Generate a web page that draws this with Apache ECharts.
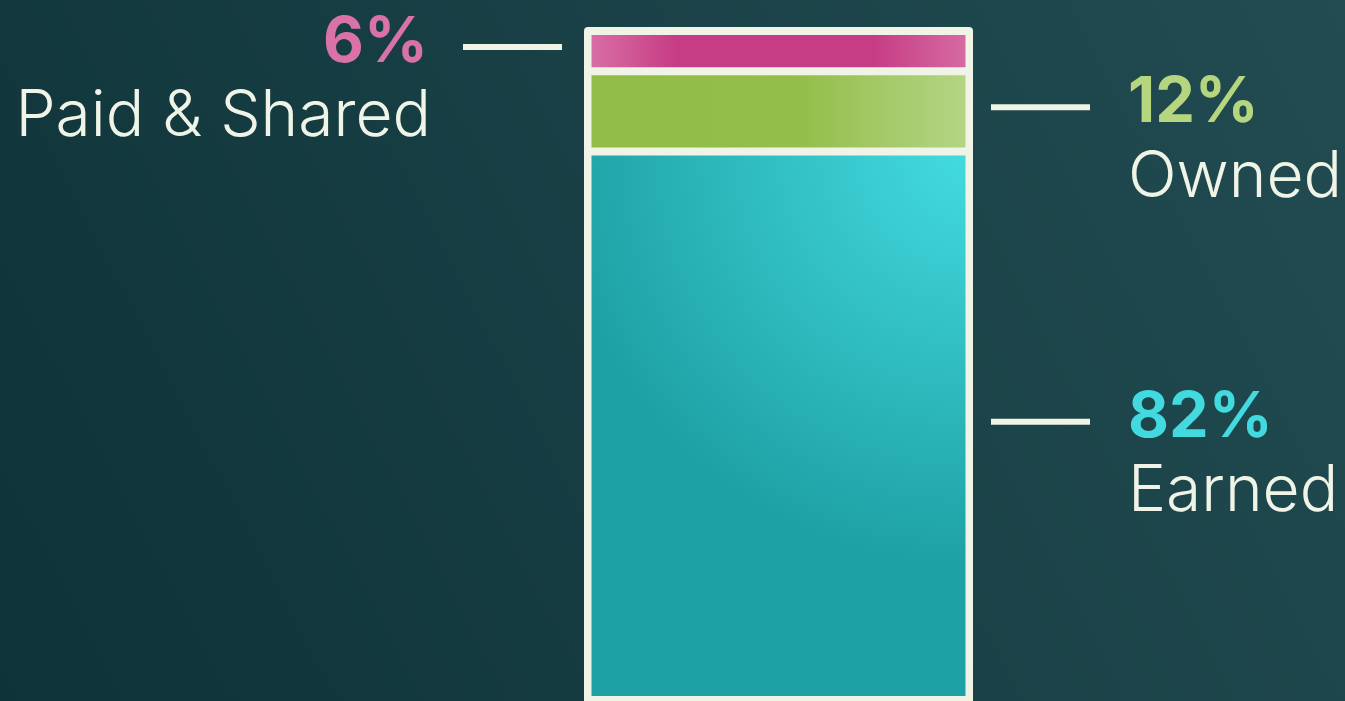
<!DOCTYPE html>
<html>
<head>
<meta charset="utf-8">
<script src="https://cdn.jsdelivr.net/npm/echarts@6/dist/echarts.min.js"></script>
<style>
  html, body { margin: 0; padding: 0; }
  #box { width: 1345px; height: 701px; }
</style>
</head>
<body>
<div id="box"></div>
<script>
// data, bottom to top of the stack
var names = ["Earned", "Owned", "Paid & Shared"];
var values = [82, 12, 6];
var pctLabels = ["82%", "12%", "6%"];
var labelSide = ["right", "right", "left"];

var cream = "#eff4e7";
var pctColors = ["#42dadf", "#b5d57f", "#d872a7"];
var lg = echarts.graphic.LinearGradient;
var rg = echarts.graphic.RadialGradient;
var fills = [
  // glow from the top right corner
  new rg(1, 0, 1.08, [
    { offset: 0, color: "#43dbdf" },
    { offset: 1, color: "#1ea1a5" },
  ]),
  new lg(0, 0, 1, 0, [
    { offset: 0, color: "#92bd48" },
    { offset: 0.55, color: "#93be4a" },
    { offset: 1, color: "#b4d586" },
  ]),
  new lg(0, 0, 1, 0, [
    { offset: 0, color: "#d970a6" },
    { offset: 0.23, color: "#c73d85" },
    { offset: 0.75, color: "#c73d85" },
    { offset: 1, color: "#d66ca3" },
  ]),
];

var total = values.reduce(function (a, b) { return a + b; }, 0);

var myChart = echarts.init(document.getElementById("box"));

var series = [
  // cream frame behind the stack
  {
    type: "bar",
    xAxisIndex: 0,
    yAxisIndex: 0,
    barWidth: 389,
    data: [total],
    silent: true,
    itemStyle: { color: cream, borderRadius: [4, 4, 0, 0] },
  },
];
values.forEach(function (v, i) {
  series.push({
    name: names[i],
    type: "bar",
    stack: "total",
    xAxisIndex: 1,
    yAxisIndex: 1,
    barWidth: 382,
    data: [v],
    itemStyle: {
      color: fills[i],
      borderColor: cream,
      borderWidth: 4,
    },
  });
});

myChart.setOption({
  animation: false,
  backgroundColor: new lg(0, 1, 1, 0, [
    { offset: 0, color: "#0e3338" },
    { offset: 1, color: "#224c52" },
  ]),
  grid: [
    { left: 584, right: 372, top: 27, bottom: 0 },
    { left: 584, right: 372, top: 31, bottom: 1 },
  ],
  xAxis: [
    { type: "category", gridIndex: 0, data: ["mix"], show: false },
    { type: "category", gridIndex: 1, data: ["mix"], show: false },
  ],
  yAxis: [
    { type: "value", gridIndex: 0, min: 0, max: total, show: false },
    { type: "value", gridIndex: 1, min: 0, max: total, show: false },
  ],
  series: series,
});

// labels and leader lines, placed from the chart's own scale
var graphics = [];
var cum = 0;
var leftEdge = myChart.convertToPixel({ gridIndex: 1 }, ["mix", 0])[0] - 194.5;
var rightEdge = leftEdge + 389;
values.forEach(function (v, i) {
  var c = myChart.convertToPixel({ gridIndex: 1 }, ["mix", cum + v / 2])[1];
  cum += v;
  var right = labelSide[i] == "right";
  var lineY = c - 4;
  var x1 = right ? rightEdge + 18 : leftEdge - 121;
  graphics.push({
    type: "rect",
    shape: { x: x1, y: lineY - 3, width: 99, height: 6 },
    style: { fill: cream },
  });
  var tx = right ? rightEdge + 155 : leftEdge - 156;
  var align = right ? "left" : "right";
  graphics.push({
    type: "text",
    x: tx,
    y: c - 8,
    style: {
      text: pctLabels[i],
      fill: pctColors[i],
      font: "bold 63px Inter",
      align: align,
      verticalAlign: "middle",
    },
  });
  graphics.push({
    type: "text",
    x: tx + (right ? 0 : 3),
    y: c + 66,
    style: {
      text: names[i],
      fill: cream,
      font: "300 64px Inter",
      align: align,
      verticalAlign: "middle",
    },
  });
});
myChart.setOption({ graphic: graphics });
</script>
</body>
</html>
